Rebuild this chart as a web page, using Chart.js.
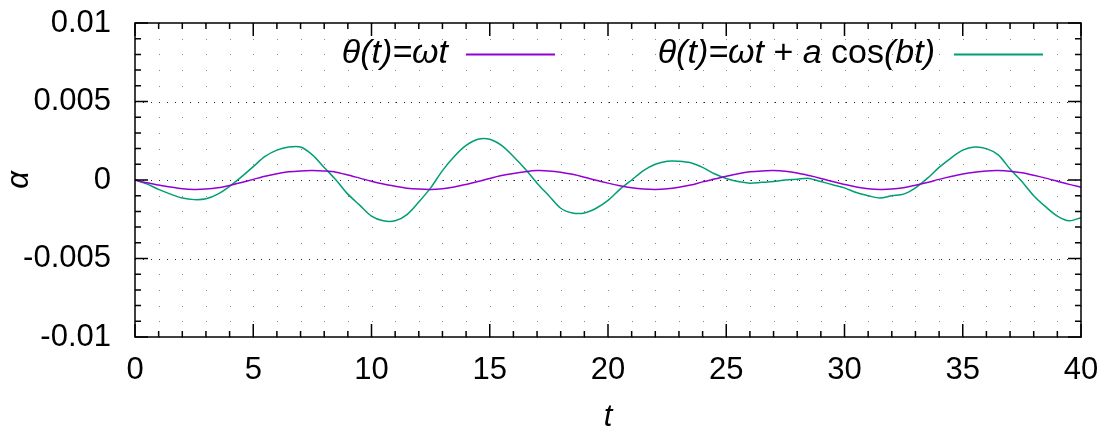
<!DOCTYPE html>
<html>
<head>
<meta charset="utf-8">
<script src="https://cdn.jsdelivr.net/npm/chart.js@4"></script>
<style>
  html, body { margin: 0; padding: 0; background: #fff; }
  canvas { display: block; }
</style>
</head>
<body>
<canvas id="chart" width="1112" height="433"></canvas>
<script>
// t values (sampled every 0.5)
const tValues = [
  0, 0.5, 1, 1.5, 2, 2.5, 3, 3.5, 4, 4.5, 5, 5.5, 6, 6.5, 7, 7.5, 8, 8.5, 9, 9.5,
  10, 10.5, 11, 11.5, 12, 12.5, 13, 13.5, 14, 14.5, 15, 15.5, 16, 16.5, 17, 17.5, 18, 18.5, 19, 19.5,
  20, 20.5, 21, 21.5, 22, 22.5, 23, 23.5, 24, 24.5, 25, 25.5, 26, 26.5, 27, 27.5, 28, 28.5, 29, 29.5,
  30, 30.5, 31, 31.5, 32, 32.5, 33, 33.5, 34, 34.5, 35, 35.5, 36, 36.5, 37, 37.5, 38, 38.5, 39, 39.5, 40
]

// θ(t)=ωt
const alphaLinear = [
  0, -0.00018, -0.00032, -0.00045, -0.00056, -0.0006, -0.00058, -0.0005, -0.00035, -0.00016,
  0.00004, 0.00024, 0.0004, 0.00052, 0.00058, 0.0006, 0.00057, 0.0005, 0.00032, 0.00012,
  -0.00008, -0.00026, -0.0004, -0.00052, -0.00058, -0.0006, -0.00055, -0.00044, -0.00028, -0.0001,
  0.0001, 0.00028, 0.00042, 0.00053, 0.0006, 0.00058, 0.0005, 0.00036, 0.00018, -0.00002,
  -0.0002, -0.00036, -0.00049, -0.00057, -0.0006, -0.00056, -0.00046, -0.00032, -0.00012, 0.00006,
  0.00024, 0.0004, 0.00052, 0.00058, 0.0006, 0.00055, 0.00044, 0.00028, 0.0001, -0.0001,
  -0.00028, -0.00044, -0.00055, -0.0006, -0.00058, -0.00049, -0.00034, -0.00016, 0.00004, 0.00022,
  0.00038, 0.0005, 0.00058, 0.0006, 0.00056, 0.00046, 0.0003, 0.00012, -0.00008, -0.00028, -0.00046
]

// θ(t)=ωt + a cos(bt)
const alphaCos = [
  0, -0.00025, -0.0006, -0.0009, -0.00115, -0.00125, -0.0012, -0.0009, -0.0004, 0.0002,
  0.00085, 0.0015, 0.0019, 0.0021, 0.0021, 0.0016, 0.0008, 0.0, -0.0009, -0.0016,
  -0.0023, -0.0026, -0.0026, -0.0022, -0.0014, -0.0005, 0.0006, 0.0015, 0.0022, 0.0026,
  0.0026, 0.0022, 0.0015, 0.0007, -0.0002, -0.001, -0.0018, -0.0021, -0.0021, -0.0018,
  -0.0013, -0.0006, 0.0, 0.0006, 0.001, 0.0012, 0.0012, 0.0011, 0.0008, 0.0004,
  0.0001, -0.0001, -0.0002, -0.00015, -0.0001, 0.0, 0.00005, 0.0001, -0.0001, -0.0003,
  -0.0005, -0.0008, -0.001, -0.00115, -0.001, -0.0009, -0.0005, 0.0001, 0.0008, 0.0014,
  0.0019, 0.0021, 0.002, 0.0016, 0.0007, -0.0001, -0.001, -0.0017, -0.0023, -0.0026, -0.0024
]

const xTickValues = [0, 5, 10, 15, 20, 25, 30, 35, 40]
const yTickValues = [-0.01, -0.005, 0, 0.005, 0.01]
const seriesLabels = ["θ(t)=ωt", "θ(t)=ωt + a cos(bt)"]
// key text split into italic / upright runs
const keyRuns = [
  [["θ(t)=ωt", true]],
  [["θ(t)=ωt", true], [" + ", false], ["a", true], [" cos", false], ["(bt)", true]]
]
const seriesColors = ["#9400d3", "#009e73"]

const FONT = "'Liberation Sans', Helvetica, Arial, sans-serif"
const KEY_SIZE = 34

const toPoints = (ys) => tValues.map((t, i) => ({ x: t, y: ys[i] }))

// gnuplot-like frame: dotted grid, inward ticks on all four sides
const framePlugin = {
  id: "gnuFrame",
  beforeDatasetsDraw(chart) {
    const { ctx, chartArea: a, scales: { x, y } } = chart
    ctx.save()
    // minor grid dots (intersections)
    ctx.fillStyle = "#8a8a8a"
    for (let i = 0; i <= 40; i++) {
      const px = Math.round(x.getPixelForValue(i))
      for (let j = -10; j <= 10; j++) {
        const py = Math.round(y.getPixelForValue(j / 1000))
        ctx.fillRect(px, py, 1, 1)
      }
    }
    // major grid rows, denser dots
    ctx.fillStyle = "#222"
    yTickValues.forEach((v) => {
      if (v === -0.01 || v === 0.01) return
      const py = Math.round(y.getPixelForValue(v))
      for (let px = a.left; px < a.right; px += 7.9) ctx.fillRect(Math.round(px), py, 1, 1)
    })
    ctx.restore()
  },
  afterDatasetsDraw(chart) {
    const { ctx, chartArea: a, scales: { x, y } } = chart
    ctx.save()
    ctx.strokeStyle = "#000"
    ctx.lineWidth = 1.5
    ctx.beginPath()
    for (let i = 0; i <= 40; i++) {
      const px = x.getPixelForValue(i)
      const len = i % 5 === 0 ? 13 : 6
      ctx.moveTo(px, a.bottom); ctx.lineTo(px, a.bottom - len)
      ctx.moveTo(px, a.top); ctx.lineTo(px, a.top + len)
    }
    for (let j = -10; j <= 10; j++) {
      const py = y.getPixelForValue(j / 1000)
      const len = j % 5 === 0 ? 13 : 6
      ctx.moveTo(a.left, py); ctx.lineTo(a.left + len, py)
      ctx.moveTo(a.right, py); ctx.lineTo(a.right - len, py)
    }
    ctx.stroke()
    ctx.strokeRect(a.left, a.top, a.right - a.left, a.bottom - a.top)

    // key: text right-aligned, sample line to the right
    const key = chart.options.plugins.gnuFrame.key
    ctx.textAlign = "left"
    ctx.textBaseline = "middle"
    chart.data.datasets.forEach((ds, i) => {
      const k = key[i]
      const runs = keyRuns[i]
      const fontOf = (it) => (it ? "italic " : "") + KEY_SIZE + "px " + FONT
      let total = 0
      runs.forEach(([s, it]) => { ctx.font = fontOf(it); total += ctx.measureText(s).width })
      let cx = k.textRight - total
      ctx.fillStyle = "#000"
      runs.forEach(([s, it]) => {
        ctx.font = fontOf(it)
        ctx.fillText(s, cx, k.y)
        cx += ctx.measureText(s).width
      })
      ctx.strokeStyle = ds.borderColor
      ctx.lineWidth = 1.8
      ctx.beginPath()
      ctx.moveTo(k.lineStart, k.y + 0.5)
      ctx.lineTo(k.lineEnd, k.y + 0.5)
      ctx.stroke()
    })
    ctx.restore()
  }
}

new Chart(document.getElementById("chart"), {
  type: "line",
  data: {
    datasets: [
      {
        label: seriesLabels[0],
        data: toPoints(alphaLinear),
        borderColor: seriesColors[0],
        borderWidth: 1.5,
        pointRadius: 0,
        tension: 0.3
      },
      {
        label: seriesLabels[1],
        data: toPoints(alphaCos),
        borderColor: seriesColors[1],
        borderWidth: 1.5,
        pointRadius: 0,
        tension: 0.3
      }
    ]
  },
  options: {
    responsive: false,
    animation: false,
    devicePixelRatio: 1,
    layout: { padding: { left: 0, right: 31, top: 23, bottom: 0 } },
    plugins: {
      legend: { display: false },
      tooltip: { enabled: false },
      gnuFrame: {
        key: [
          { textRight: 448, lineStart: 466, lineEnd: 555, y: 54 },
          { textRight: 935, lineStart: 954, lineEnd: 1043, y: 54 }
        ]
      }
    },
    scales: {
      x: {
        type: "linear",
        min: 0,
        max: 40,
        afterFit: (scale) => {
          scale.height = 96
          scale.paddingLeft = 0
          scale.paddingRight = 0
        },
        afterBuildTicks: (scale) => { scale.ticks = xTickValues.map((v) => ({ value: v })) },
        grid: { display: false },
        border: { display: false },
        ticks: {
          padding: 7,
          color: "#000",
          font: { family: FONT, size: 31 },
          maxRotation: 0
        },
        title: {
          display: true,
          text: "t",
          color: "#000",
          font: { family: FONT, size: 31, style: "italic", lineHeight: 1 },
          padding: { top: 0, bottom: 0 }
        }
      },
      y: {
        min: -0.01,
        max: 0.01,
        afterFit: (scale) => {
          scale.width = 135
          scale.paddingTop = 0
          scale.paddingBottom = 0
        },
        afterBuildTicks: (scale) => { scale.ticks = yTickValues.map((v) => ({ value: v })) },
        grid: { display: false },
        border: { display: false },
        ticks: {
          padding: 16,
          color: "#000",
          font: { family: FONT, size: 31 },
          callback: (v) => String(Number(v.toFixed(3)))
        },
        title: {
          display: true,
          text: "α",
          color: "#000",
          font: { family: FONT, size: 31, style: "italic", lineHeight: 1 },
          padding: { top: 4, bottom: 0 }
        }
      }
    }
  },
  plugins: [framePlugin]
})
</script>
</body>
</html>
